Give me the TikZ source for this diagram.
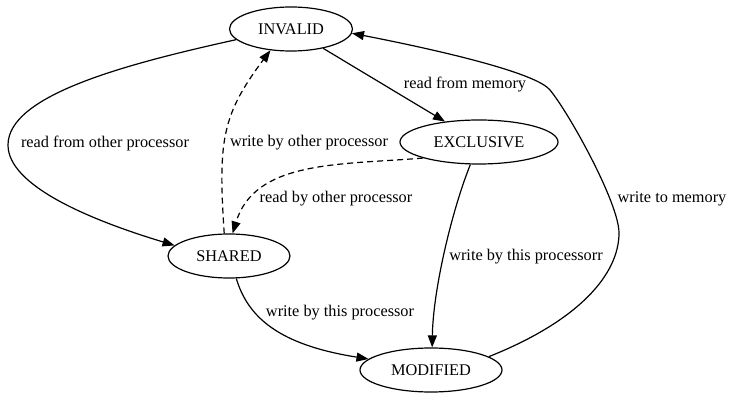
\documentclass[tikz,border=0pt]{standalone}
\usepackage{fontspec}
\setmainfont{Liberation Serif}
\usetikzlibrary{arrows.meta,shapes.geometric}

\begin{document}
\begin{tikzpicture}[x=1pt,y=-1pt,line width=1.2pt,
                    font=\fontsize{16.3}{19}\selectfont,
                    state/.style={draw,ellipse,inner sep=0pt,minimum height=44pt},
                    edge/.style={-{Triangle[length=12pt,width=9pt]}},
                    snoop/.style={edge,dash pattern=on 6pt off 4pt},
                    edgelabel/.style={inner sep=0pt}]
                \useasboundingbox (0,0) rectangle (732,398);
                 \node[state,minimum width=123pt] (invalid) at (291,29) {INVALID};
                 \node[state,minimum width=158pt] (exclusive) at (479,142) {EXCLUSIVE};
                 \node[state,minimum width=122pt] (shared) at (229,256) {SHARED};
                 \node[state,minimum width=142pt] (modified) at (431,370) {MODIFIED};
                 \draw[edge] (invalid) -- (exclusive);
                 \draw[edge] (invalid.191) .. controls (126,64) and (8,95) .. (8,145)
                             .. controls (8,185) and (87,219) .. (shared.169);
                 \draw[snoop] (shared.102) .. controls (218,140) and (222,115) .. (invalid.226);
                 \draw[snoop] (exclusive.196) .. controls (340,165) and (255,160) .. (shared.81);
                 \draw[edge] (exclusive.249) .. controls (452,210) and (433,290) .. (modified.87);
                 \draw[edge] (shared.288) .. controls (248,318) and (280,345) .. (modified.170);
                 \draw[edge] (modified.13) .. controls (581,320) and (619,273) .. (619,233)
                             .. controls (619,203) and (569,113) .. (550,90)
                             .. controls (537,74) and (453,53) .. (invalid.-4);
                 \node[edgelabel] (lrmem) at (465,85) {read from memory};
                 \node[edgelabel] (lrother) at (105,143) {read from other processor};
                 \node[edgelabel] (lwother) at (309,143) {write by other processor};
                 \node[edgelabel] (lsnoop) at (336,199) {read by other processor};
                 \node[edgelabel] (lwexcl) at (526,257) {write by this processorr};
                 \node[edgelabel] (lwmem) at (672,199) {write to memory};
                 \node[edgelabel] (lwshared) at (340,313) {write by this processor};
            \end{tikzpicture}
\end{document}
